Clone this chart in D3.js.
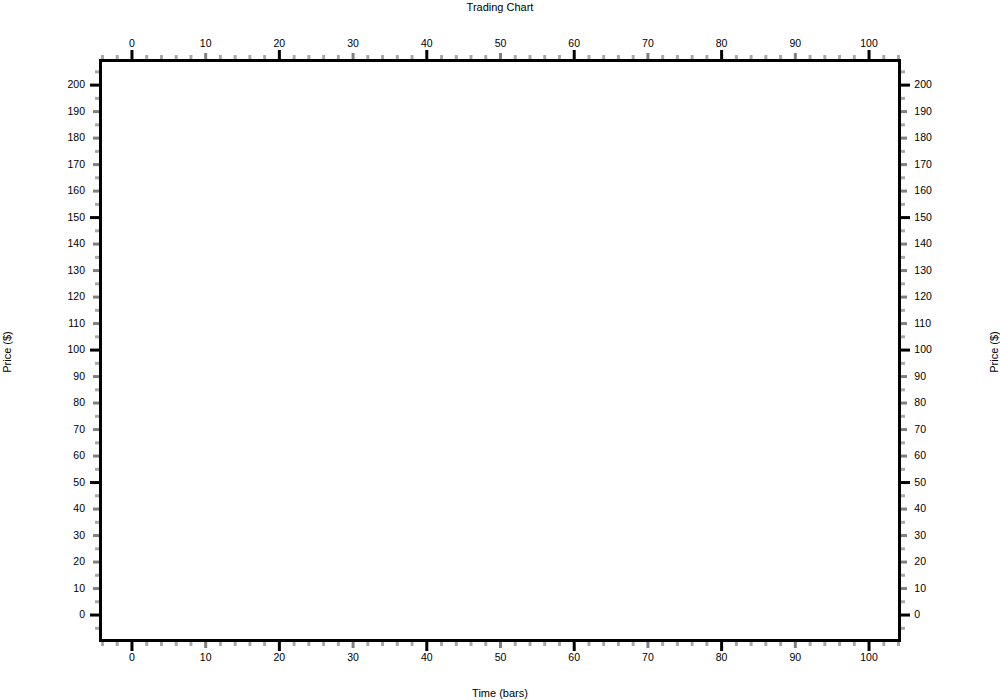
<!DOCTYPE html>
<html>
<head>
<meta charset="utf-8">
<script src="https://cdn.jsdelivr.net/npm/d3@7"></script>
<style>
  html, body { margin: 0; padding: 0; background: #ffffff; }
  svg { display: block; }
  text { font-family: "Liberation Sans", Arial, sans-serif; fill: #000; }
</style>
</head>
<body>
<svg id="chart" width="1000" height="700"></svg>
<script>
// ---- data (tick values / labels) ----
const chartTitle = "Trading Chart";
const xTitle = "Time (bars)";
const yTitle = "Price ($)";
const xDomain = [-4.2, 104.2];
const yDomain = [-9.8, 209.1];
const xLabelTicks = [0, 10, 20, 30, 40, 50, 60, 70, 80, 90, 100];
const xMajorTicks = [0, 20, 40, 60, 80, 100];
const xMediumTicks = [10, 30, 50, 70, 90];
const xMinorTicks = [-4, -2, 2, 4, 6, 8, 12, 14, 16, 18, 22, 24, 26, 28, 32, 34, 36, 38,
  42, 44, 46, 48, 52, 54, 56, 58, 62, 64, 66, 68, 72, 74, 76, 78, 82, 84, 86, 88,
  92, 94, 96, 98, 102, 104];
const yLabelTicks = [0, 10, 20, 30, 40, 50, 60, 70, 80, 90, 100, 110, 120, 130, 140,
  150, 160, 170, 180, 190, 200];
const yMajorTicks = [0, 50, 100, 150, 200];
const yMediumTicks = [10, 20, 30, 40, 60, 70, 80, 90, 110, 120, 130, 140, 160, 170, 180, 190];
const yMinorTicks = [-5, 5, 15, 25, 35, 45, 55, 65, 75, 85, 95, 105, 115, 125, 135, 145,
  155, 165, 175, 185, 195, 205];

// ---- layout ----
const L = 100.5, R = 899.5, T = 60.5, B = 640.5;
const svg = d3.select("#chart");

const x = d3.scaleLinear().domain(xDomain).range([L, R]);
const y = d3.scaleLinear().domain(yDomain).range([B, T]);

const styles = [
  { ticks: xMinorTicks, yt: yMinorTicks, len: 5.5, color: "#a9a9a9" },
  { ticks: xMediumTicks, yt: yMediumTicks, len: 7.5, color: "#808080" }
];

function tickAxis(axisGen, scale, vals, len, color, tx, ty) {
  const g = svg.append("g")
    .attr("transform", `translate(${tx},${ty})`)
    .call(axisGen(scale).tickValues(vals).tickSize(len).tickSizeOuter(0).tickFormat(""));
  g.select(".domain").remove();
  g.selectAll(".tick line").attr("stroke", color).attr("stroke-width", 3);
  g.selectAll(".tick text").remove();
  return g;
}

// minor + medium ticks (under the frame)
styles.forEach(s => {
  tickAxis(d3.axisTop, x, s.ticks, s.len, s.color, 0, T);
  tickAxis(d3.axisBottom, x, s.ticks, s.len, s.color, 0, B);
  tickAxis(d3.axisLeft, y, s.yt, s.len, s.color, L, 0);
  tickAxis(d3.axisRight, y, s.yt, s.len, s.color, R, 0);
});

// frame
svg.append("rect")
  .attr("x", L).attr("y", T)
  .attr("width", R - L).attr("height", B - T)
  .attr("fill", "none")
  .attr("stroke", "#000")
  .attr("stroke-width", 3);

// major ticks (black) slightly crossing the frame
[[d3.axisTop, x, xMajorTicks, 0, T - 1.5, 1], [d3.axisBottom, x, xMajorTicks, 0, B + 1.5, 1],
 [d3.axisLeft, y, yMajorTicks, L - 1.5, 0, 1], [d3.axisRight, y, yMajorTicks, R + 1.5, 0, 1]]
.forEach(([gen, sc, vals, tx, ty]) => {
  const g = svg.append("g")
    .attr("transform", `translate(${tx},${ty})`)
    .call(gen(sc).tickValues(vals).tickSize(9).tickSizeOuter(0).tickFormat(""));
  g.select(".domain").remove();
  g.selectAll(".tick line").attr("stroke", "#000").attr("stroke-width", 3)
    .attr(gen === d3.axisTop || gen === d3.axisBottom ? "y1" : "x1",
          gen === d3.axisTop || gen === d3.axisRight ? (gen === d3.axisTop ? 1.5 : -1.5) : (gen === d3.axisBottom ? -1.5 : 1.5));
});

// labels
function labelAxis(axisGen, scale, vals, pad, tx, ty) {
  const g = svg.append("g")
    .attr("transform", `translate(${tx},${ty})`)
    .call(axisGen(scale).tickValues(vals).tickSize(0).tickSizeOuter(0).tickPadding(pad).tickFormat(d3.format("d")));
  g.select(".domain").remove();
  g.selectAll(".tick line").remove();
  g.selectAll(".tick text")
    .attr("font-family", "'Liberation Sans', Arial, sans-serif")
    .attr("font-size", 10.5)
    .attr("fill", "#000");
  return g;
}
labelAxis(d3.axisTop, x, xLabelTicks, 13.5, 0, T);
labelAxis(d3.axisBottom, x, xLabelTicks, 13.5, 0, B);
labelAxis(d3.axisLeft, y, yLabelTicks, 15.5, L, 0);
labelAxis(d3.axisRight, y, yLabelTicks, 14.8, R, 0);

// titles
svg.append("text")
  .attr("x", (L + R) / 2).attr("y", 11)
  .attr("text-anchor", "middle").attr("font-size", 11)
  .text(chartTitle);
svg.append("text")
  .attr("x", (L + R) / 2).attr("y", 697)
  .attr("text-anchor", "middle").attr("font-size", 11)
  .text(xTitle);
svg.append("text")
  .attr("transform", `translate(10.5,${(T + B) / 2 + 1.5}) rotate(-90)`)
  .attr("text-anchor", "middle").attr("font-size", 11)
  .text(yTitle);
svg.append("text")
  .attr("transform", `translate(998,${(T + B) / 2 + 1.5}) rotate(-90)`)
  .attr("text-anchor", "middle").attr("font-size", 11)
  .text(yTitle);
</script>
</body>
</html>
